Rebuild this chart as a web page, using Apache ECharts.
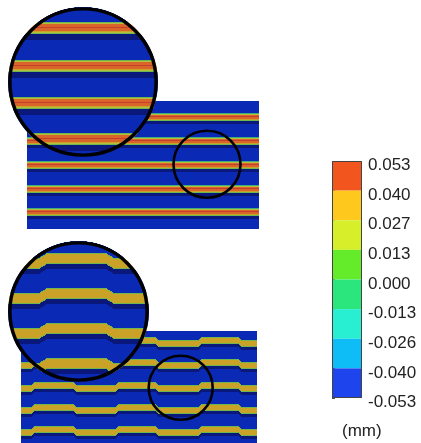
<!DOCTYPE html>
<html><head><meta charset="utf-8">
<script src="https://cdn.jsdelivr.net/npm/echarts@6/dist/echarts.min.js"></script>
<style>html,body{margin:0;padding:0;background:#fff}#c{width:421px;height:443px}</style>
</head><body><div id="c"></div>
<script>
// ---------------- data ----------------
const colorbarTicks = ['0.053','0.040','0.027','0.013','0.000','-0.013','-0.026','-0.040','-0.053'];
const levelBounds = [0.053, 0.040, 0.027, 0.013, 0.000, -0.013, -0.026, -0.040, -0.053];
const colorbarBands = [0, 1, 2, 3, 4, 5, 6, 7];
const colorbarUnit = '(mm)';

// top specimen (stripes uniform along x)
const topPanelSize = [232, 128];
const topPanelStripeTops = [12, 36, 60, 84, 107];
const topPanelProfile = [-0.005, 0.02, 0.045, 0.055, 0.048, 0.045, 0.03, 0.008, -0.06, -0.06, -0.06];
const topPanelBackground = -0.045;
const topPanelMarker = [180, 63.3, 33.5];

const topZoomSize = 150;
const topZoomStripeTops = [15, 53, 90, 126];
const topZoomProfile = [0.005, 0.02, 0.045, 0.048, 0.05, 0.055, 0.05, 0.048, 0.045, 0.03, 0.02, 0.005,
                        -0.06, -0.06, -0.06, -0.06, -0.06, -0.06];

// bottom specimen (stepped stripes)
const bottomPanelSize = [236, 112];
const bottomPanelStripeTops = [9, 31, 54, 76, 98];
const bottomPanelSteps = [12, 54, 96, 136, 179, 219];
const bottomPanelLevels = [0, -3, 0, -3, 0, -3, 0];
const bottomPanelProfile = [0.005, 0.03, 0.033, 0.035, 0.033, 0.03, 0.005, -0.06, -0.06, -0.06];
const bottomPanelBackground = -0.045;
const bottomPanelMarker = [159.7, 56.8, 32];

const bottomZoomSize = 141;
const bottomZoomStripeTops = [12, 47, 82, 117];
const bottomZoomSteps = [35, 102];
const bottomZoomLevels = [5, 0, 5];
const bottomZoomProfile = [0.005, 0.03, 0.032, 0.034, 0.035, 0.035, 0.034, 0.032, 0.03, 0.03, 0.005,
                           -0.06, -0.06, -0.06, -0.06, -0.06];

// ---------------- styles ----------------
const fieldColors = ['#c4402a', '#d9652b', '#c9a227', '#b6bd3e', '#6fb64c', '#3fae78', '#2f9fb0', '#1f60c8', '#0a2ab6', '#0a187c'];
const colorbarColors = ['#f2561e', '#fec81c', '#d6ef2a', '#64ec2a', '#2ae67c', '#28eed2', '#0ebcf6', '#1e44ee'];
const FONT = 'Liberation Sans, Arial, sans-serif';

// ---------------- helpers ----------------
function binOf(v) {
  const i = levelBounds.findIndex(b => v >= b);
  return i < 0 ? levelBounds.length : i;
}
function levelAt(x, steps, levels, tw) {
  if (!steps) return 0;
  for (let k = 0; k < steps.length; k++) {
    const d = x - steps[k];
    if (Math.abs(d) < tw / 2) {
      const t = (d + tw / 2) / tw;
      return levels[k] + (levels[k + 1] - levels[k]) * t;
    }
  }
  let i = 0;
  while (i < steps.length && x >= steps[i]) i++;
  return levels[i];
}
function fieldValue(x, y, cfg) {
  const off = levelAt(x, cfg.steps, cfg.levels, cfg.tw);
  for (const s of cfg.tops) {
    const rel = y - (s + off);
    if (rel >= 0 && rel < cfg.profile.length) return cfg.profile[Math.floor(rel)];
  }
  return cfg.bg;
}
// run-length rows; circle=true clips to inscribed circle
function buildRuns(cfg, W, H, circle) {
  const out = [];
  const R = W / 2;
  for (let y = 0; y < H; y++) {
    let xs = 0, xe = W;
    if (circle) {
      const dy = y + 0.5 - R;
      if (Math.abs(dy) >= R) continue;
      const half = Math.sqrt(R * R - dy * dy);
      xs = R - half; xe = R + half;
    }
    let runStart = xs, runBin = null;
    for (let x = Math.floor(xs); x < Math.ceil(xe); x++) {
      const b = binOf(fieldValue(x + 0.5, y + 0.5, cfg));
      if (runBin === null) { runBin = b; continue; }
      if (b !== runBin) {
        out.push([runStart, x, y, runBin]);
        runStart = x; runBin = b;
      }
    }
    if (runBin !== null) out.push([runStart, xe, y, runBin]);
  }
  return out;
}

const topPanelRuns = buildRuns({tops: topPanelStripeTops, profile: topPanelProfile, bg: topPanelBackground},
  topPanelSize[0], topPanelSize[1], false);
const topZoomRuns = buildRuns({tops: topZoomStripeTops, profile: topZoomProfile, bg: topPanelBackground},
  topZoomSize, topZoomSize, true);
const bottomPanelRuns = buildRuns({tops: bottomPanelStripeTops, profile: bottomPanelProfile, bg: bottomPanelBackground,
  steps: bottomPanelSteps, levels: bottomPanelLevels, tw: 4}, bottomPanelSize[0], bottomPanelSize[1], false);
const bottomZoomRuns = buildRuns({tops: bottomZoomStripeTops, profile: bottomZoomProfile, bg: bottomPanelBackground,
  steps: bottomZoomSteps, levels: bottomZoomLevels, tw: 8}, bottomZoomSize, bottomZoomSize, true);

function runRender(params, api) {
  const p0 = api.coord([api.value(0), api.value(2)]);
  const p1 = api.coord([api.value(1), api.value(2) + 1]);
  return {type: 'rect', shape: {x: p0[0], y: p0[1], width: p1[0] - p0[0], height: p1[1] - p0[1]},
          style: {fill: fieldColors[api.value(3)]}};
}
function circleRender(width) {
  return function (params, api) {
    const c = api.coord([api.value(0), api.value(1)]);
    const r = api.size([api.value(2), 0])[0];
    return {type: 'circle', shape: {cx: c[0], cy: c[1], r: r},
            style: {fill: 'none', stroke: '#000', lineWidth: width}};
  };
}
function hiddenX(i, max) { return {gridIndex: i, type: 'value', min: 0, max: max, show: false}; }
function hiddenY(i, max) { return {gridIndex: i, type: 'value', min: 0, max: max, inverse: true, show: false}; }

const chart = echarts.init(document.getElementById('c'), null, {renderer: 'canvas'});
chart.setOption({
  animation: false,
  backgroundColor: '#ffffff',
  title: {text: colorbarUnit, left: 342, top: 423, padding: 0,
          textStyle: {fontSize: 17, fontWeight: 'normal', color: '#222', fontFamily: FONT}},
  grid: [
    {left: 27, top: 101, width: topPanelSize[0], height: topPanelSize[1]},
    {left: 8, top: 7, width: topZoomSize, height: topZoomSize},
    {left: 21, top: 331, width: bottomPanelSize[0], height: bottomPanelSize[1]},
    {left: 8, top: 241, width: bottomZoomSize, height: bottomZoomSize},
    {left: 332, top: 161, width: 30, height: 237}
  ],
  xAxis: [
    hiddenX(0, topPanelSize[0]), hiddenX(1, topZoomSize), hiddenX(2, bottomPanelSize[0]), hiddenX(3, bottomZoomSize),
    hiddenX(4, 1)
  ],
  yAxis: [
    hiddenY(0, topPanelSize[1]), hiddenY(1, topZoomSize), hiddenY(2, bottomPanelSize[1]), hiddenY(3, bottomZoomSize),
    {gridIndex: 4, type: 'value', min: 0, max: 8, interval: 1, position: 'right',
     axisLine: {show: false}, splitLine: {show: false},
     axisTick: {show: true, length: 3, lineStyle: {color: '#555', width: 1}},
     axisLabel: {fontSize: 17, color: '#222', fontFamily: FONT, margin: 6,
                 verticalAlign: 'top', lineHeight: 9,
                 formatter: v => colorbarTicks[8 - v]}}
  ],
  series: [
    {type: 'custom', xAxisIndex: 0, yAxisIndex: 0, z: 2, silent: true, data: topPanelRuns, renderItem: runRender},
    {type: 'custom', xAxisIndex: 0, yAxisIndex: 0, z: 3, silent: true, data: [topPanelMarker], renderItem: circleRender(2.6)},
    {type: 'custom', xAxisIndex: 2, yAxisIndex: 2, z: 2, silent: true, data: bottomPanelRuns, renderItem: runRender},
    {type: 'custom', xAxisIndex: 2, yAxisIndex: 2, z: 3, silent: true, data: [bottomPanelMarker], renderItem: circleRender(2.6)},
    {type: 'custom', xAxisIndex: 1, yAxisIndex: 1, z: 4, silent: true, data: topZoomRuns, renderItem: runRender},
    {type: 'custom', xAxisIndex: 1, yAxisIndex: 1, z: 5, silent: true,
     data: [[topZoomSize / 2, topZoomSize / 2, topZoomSize / 2 - 1.9]], renderItem: circleRender(3.4)},
    {type: 'custom', xAxisIndex: 3, yAxisIndex: 3, z: 4, silent: true, data: bottomZoomRuns, renderItem: runRender},
    {type: 'custom', xAxisIndex: 3, yAxisIndex: 3, z: 5, silent: true,
     data: [[bottomZoomSize / 2, bottomZoomSize / 2, bottomZoomSize / 2 - 1.9]], renderItem: circleRender(3.4)},
    {type: 'custom', xAxisIndex: 4, yAxisIndex: 4, z: 2, silent: true, data: colorbarBands,
     renderItem: function (params, api) {
       const i = api.value(0);
       const p0 = api.coord([0, 8 - i]);
       const p1 = api.coord([1, 7 - i]);
       return {type: 'rect', shape: {x: p0[0], y: p0[1], width: p1[0] - p0[0], height: p1[1] - p0[1]},
               style: {fill: colorbarColors[i]}};
     }},
    {type: 'custom', xAxisIndex: 4, yAxisIndex: 4, z: 3, silent: true, data: [[0, 8]],
     renderItem: function (params, api) {
       const p0 = api.coord([0, 8]);
       const p1 = api.coord([1, 0]);
       return {type: 'rect', shape: {x: p0[0] + 0.5, y: p0[1] + 0.5, width: p1[0] - p0[0] - 1, height: p1[1] - p0[1] - 1},
               style: {fill: 'none', stroke: '#444', lineWidth: 1}};
     }}
  ]
});
</script></body></html>
